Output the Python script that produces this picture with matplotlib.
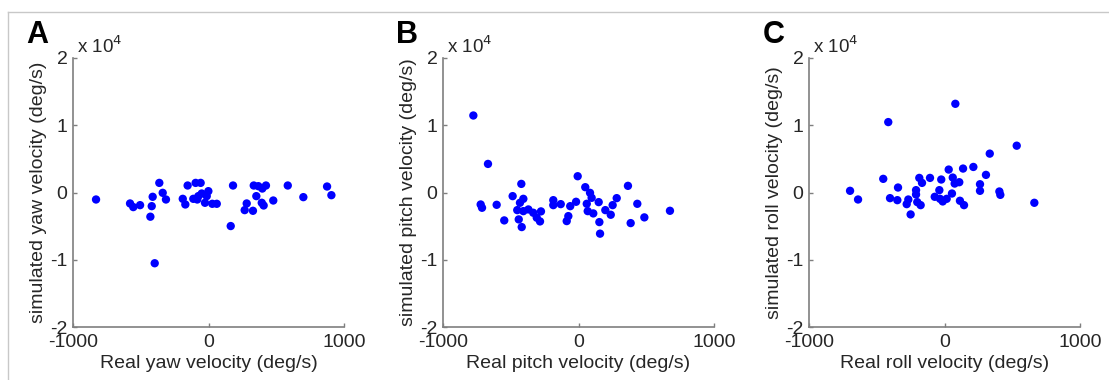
import numpy as np
import matplotlib
matplotlib.use('Agg')
import matplotlib.pyplot as plt
from matplotlib.lines import Line2D

plt.rcParams['font.family'] = ['Liberation Sans', 'DejaVu Sans']

# 面板A: yaw
yaw_real = [-830, -579, -555, -505, -363, -412, -419, -429, -397, -338,
            -314, -154, -95, -58, -190, -171, -112, -75, -1, -13,
            -26, 28, 61, -83, -50, 181, 164, 282, 267, 328,
            334, 368, 397, 424, 353, 393, 407, 478, 585, 700,
            875, 907]
yaw_sim = [-1040, -1630, -2170, -1880, 1430, -640, -2030, -3600, -10520, -50,
           -1040, 1040, 1430, 1430, -940, -1780, -940, -540, 200, -540,
           -1530, -1680, -1680, -1040, -150, 1040, -4990, -1630, -2620, -2720,
           1040, 940, 590, 1040, -540, -1530, -1930, -1190, 1040, -690,
           890, -400]

# 面板B: pitch
pitch_real = [-776, -668, -722, -712, -604, -548, -486, -422, -407, -432,
              -452, -441, -419, -407, -370, -334, -308, -284, -277, -186,
              -186, -131, -87, -75, -61, -18, -6, 50, 85, 97,
              61, 68, 109, 149, 154, 159, 198, 238, 252, 282,
              365, 434, 385, 486, 675]
pitch_sim = [11450, 4250, -1780, -2270, -1830, -4150, -540, 1280, -940, -1530,
             -2620, -4000, -5140, -2770, -2520, -3010, -3750, -4300, -2810, -1140,
             -1880, -1730, -4250, -3510, -2030, -1380, 2420, 790, -50, -790,
             -1680, -2770, -3110, -1430, -4400, -6120, -2620, -3310, -1880, -840,
             990, -1680, -4550, -3700, -2720]

# 面板C: roll
roll_real = [-697, -638, -415, -452, -402, -348, -343, -279, -267, -250,
             -210, -210, -201, -176, -186, -166, -107, -72, -38, -33,
             -24, -13, 16, 31, 55, 61, 75, 80, 109, 114,
             144, 137, 213, 262, 262, 306, 334, 405, 412, 533,
             663]
roll_sim = [250, -1040, 10470, 2030, -840, -1140, 740, -1730, -1040, -3260,
            350, -300, -1430, -1880, 2170, 1430, 2170, -640, 350, -940,
            1930, -1330, -940, 3410, -150, 2220, 1330, 13190, 1530, -1230,
            -1880, 3560, 3800, 1230, 250, 2620, 5780, 150, -350, 6960,
            -1530]

panels = [
    ('A', yaw_real, yaw_sim, 'Real yaw velocity (deg/s)', 'simulated yaw velocity (deg/s)', 73),
    ('B', pitch_real, pitch_sim, 'Real pitch velocity (deg/s)', 'simulated pitch velocity (deg/s)', 443),
    ('C', roll_real, roll_sim, 'Real roll velocity (deg/s)', 'simulated roll velocity (deg/s)', 809),
]

W, H = 1109, 380
fig = plt.figure(figsize=(W / 100, H / 100), dpi=100)

axis_color = '#7f7f7f'
text_color = '#262626'
fs = 14

for letter, xr, ys, xlab, ylab, left_px in panels:
    ax = fig.add_axes([left_px / W, (H - 327) / H, 271 / W, 269 / H])
    ax.scatter(xr, np.array(ys) / 1e4, s=36, color='#0000ff', edgecolors='none', zorder=3)
    ax.set_xlim(-1000, 1000)
    ax.set_ylim(-2, 2)
    ax.set_xticks([-1000, 0, 1000])
    ax.set_yticks([-2, -1, 0, 1, 2])
    ax.set_xticklabels(['-1000', '0', '1000'])
    ax.set_yticklabels(['-2', '-1', '0', '1', '2'])
    for s in ['top', 'right']:
        ax.spines[s].set_visible(False)
    for s in ['left', 'bottom']:
        ax.spines[s].set_color(axis_color)
        ax.spines[s].set_linewidth(1.2)
    ax.tick_params(direction='in', length=3, width=1, color=axis_color,
                   labelsize=fs, labelcolor=text_color)
    ax.tick_params(axis='x', pad=5)
    ax.tick_params(axis='y', pad=4)
    ax.set_xlabel(xlab, fontsize=fs, color=text_color, labelpad=3)
    ax.set_ylabel(ylab, fontsize=fs, color=text_color, labelpad=2)
    ax.text(4 / 271, 1 + 5 / 269, 'x 10$^{4}$', transform=ax.transAxes, fontsize=13.5,
            color=text_color, ha='left', va='baseline')
    fig.text((left_px - 35.5) / W, (H - 43) / H, letter, fontsize=22,
             fontweight='bold', ha='center', va='baseline', color='black')

# 截图边框
fig.add_artist(Line2D([8 / W, 1], [1 - 11.5 / H, 1 - 11.5 / H], color='#c8c8c8', lw=1))
fig.add_artist(Line2D([8 / W, 8 / W], [0, 1 - 11.5 / H], color='#c8c8c8', lw=1))

fig.savefig('out.png', dpi=100)
